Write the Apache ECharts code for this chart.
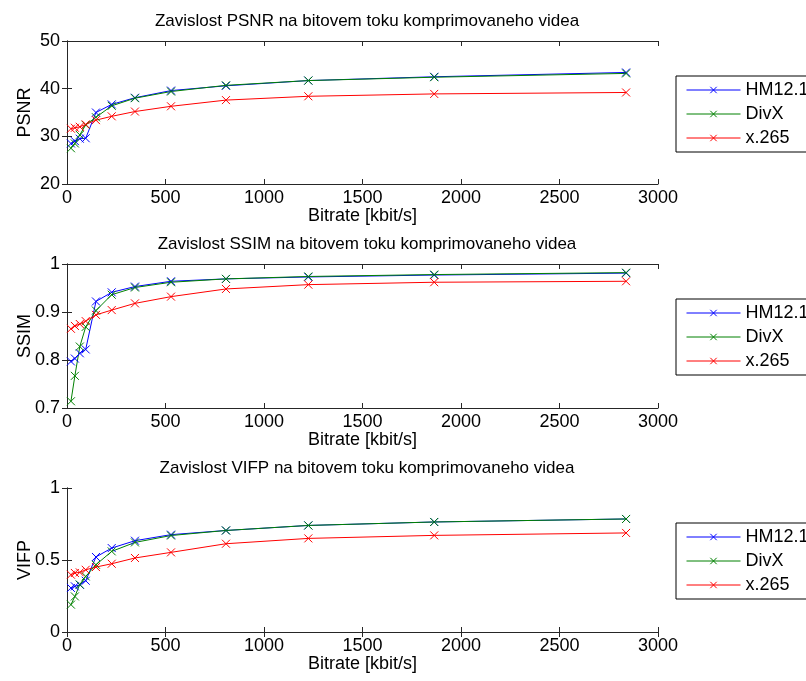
<!DOCTYPE html>
<html><head><meta charset="utf-8">
<script src="https://cdn.jsdelivr.net/npm/echarts@6/dist/echarts.min.js"></script>
<style>html,body{margin:0;padding:0;background:#fff}#c{width:806px;height:681px}</style>
</head><body><div id="c"></div>
<script>
const bitrate = [20, 40, 65, 95, 147, 227, 345, 528, 807, 1225, 1864, 2838];
const codecs = ['HM12.1', 'DivX', 'x.265'];
const colors = ['#0000ff', '#008000', '#ff0000'];
const titles = ['Zavislost PSNR na bitovem toku komprimovaneho videa',
  'Zavislost SSIM na bitovem toku komprimovaneho videa',
  'Zavislost VIFP na bitovem toku komprimovaneho videa'];
const metricNames = ['PSNR', 'SSIM', 'VIFP'];
const xTicks = {min: 0, max: 3000, interval: 500};
const yTicks = [{min: 20, max: 50, interval: 10}, {min: 0.7, max: 1, interval: 0.1}, {min: 0, max: 1, interval: 0.5}];
const psnrHM = [28.5, 29.0, 29.5, 29.6, 35.0, 36.7, 38.1, 39.6, 40.6, 41.7, 42.5, 43.4];
const psnrDivX = [27.5, 28.5, 30.3, 32.4, 34.0, 36.4, 38.0, 39.4, 40.7, 41.7, 42.4, 43.2];
const psnrX265 = [31.6, 31.8, 32.0, 32.5, 33.4, 34.2, 35.2, 36.3, 37.6, 38.4, 38.9, 39.2];
const ssimHM = [0.797, 0.803, 0.814, 0.822, 0.922, 0.941, 0.953, 0.964, 0.969, 0.973, 0.977, 0.981];
const ssimDivX = [0.714, 0.767, 0.828, 0.869, 0.903, 0.936, 0.951, 0.962, 0.969, 0.974, 0.978, 0.982];
const ssimX265 = [0.865, 0.871, 0.875, 0.881, 0.894, 0.904, 0.918, 0.932, 0.948, 0.957, 0.962, 0.964];
const vifpHM = [0.306, 0.317, 0.328, 0.356, 0.521, 0.583, 0.634, 0.676, 0.705, 0.740, 0.764, 0.785];
const vifpDivX = [0.190, 0.247, 0.330, 0.386, 0.467, 0.560, 0.622, 0.670, 0.705, 0.740, 0.764, 0.785];
const vifpX265 = [0.398, 0.410, 0.414, 0.432, 0.451, 0.474, 0.514, 0.553, 0.613, 0.650, 0.671, 0.688];
const metrics = [[psnrHM, psnrDivX, psnrX265], [ssimHM, ssimDivX, ssimX265], [vifpHM, vifpDivX, vifpX265]];

const FONT = "'Liberation Sans', Arial, sans-serif";
const AX = '#262626';
const gridTops = [41, 264, 488];
const gridH = [143, 144, 144];
const xMark = 'path://M0,0L10,10M10,0L0,10';

const grid = [], xAxis = [], yAxis = [], series = [], title = [], legend = [];
for (let g = 0; g < 3; g++) {
  grid.push({left: 67, width: 591, top: gridTops[g], height: gridH[g], containLabel: false});
  title.push({text: titles[g], left: 362, top: gridTops[g] - 33, textAlign: 'center',
    textStyle: {fontFamily: FONT, fontSize: 17, fontWeight: 'normal', color: '#000'}});
  const baseX = {type: 'value', gridIndex: g, min: xTicks.min, max: xTicks.max, interval: xTicks.interval,
    splitLine: {show: false}, axisLine: {show: true, lineStyle: {color: AX, width: 1}},
    axisTick: {show: true, inside: true, length: 5, lineStyle: {color: AX}}};
  xAxis.push(Object.assign({}, baseX, {position: 'bottom', name: 'Bitrate [kbit/s]', nameLocation: 'middle', nameGap: 23,
    nameMoveOverlap: false,
    nameTextStyle: {fontFamily: FONT, fontSize: 18, color: '#000'},
    axisLabel: {fontFamily: FONT, fontSize: 18, color: '#000', margin: 5, formatter: v => String(v)}}));
  xAxis.push(Object.assign({}, baseX, {position: 'top', axisLabel: {show: false}}));
  const yt = yTicks[g];
  const baseY = {type: 'value', gridIndex: g, min: yt.min, max: yt.max, interval: yt.interval,
    splitLine: {show: false}, axisLine: {show: true, lineStyle: {color: AX, width: 1}},
    axisTick: {show: true, inside: true, length: 5, lineStyle: {color: AX}}};
  yAxis.push(Object.assign({}, baseY, {position: 'left', name: metricNames[g], nameLocation: 'middle', nameGap: 33,
    nameMoveOverlap: false,
    nameTextStyle: {fontFamily: FONT, fontSize: 18, color: '#000'},
    axisLabel: {fontFamily: FONT, fontSize: 18, color: '#000', margin: 7,
      formatter: v => String(Math.round(v * 10) / 10)}}));
  yAxis.push(Object.assign({}, baseY, {position: 'right', axisLabel: {show: false}}));
  for (let s = 0; s < 3; s++) {
    series.push({type: 'line', name: codecs[s], xAxisIndex: 2 * g, yAxisIndex: 2 * g,
      data: bitrate.map((b, i) => [b, metrics[g][s][i]]),
      symbol: xMark, symbolSize: 8, showSymbol: true, showAllSymbol: true,
      lineStyle: {color: colors[s], width: 1},
      itemStyle: {color: colors[s], borderColor: colors[s], borderWidth: 1},
      emphasis: {disabled: true}, animation: false});
  }
  legend.push({data: codecs, orient: 'vertical', left: 676, top: gridTops[g] + 35,
    itemWidth: 54, itemHeight: 8, itemGap: 6, padding: [5, 14, 5, 10],
    borderColor: '#000', borderWidth: 1, backgroundColor: '#fff', selectedMode: false,
    itemStyle: {borderWidth: 1}, lineStyle: {width: 1},
    textStyle: {fontFamily: FONT, fontSize: 18, color: '#000'}});
}
const chart = echarts.init(document.getElementById('c'), null, {renderer: 'canvas'});
chart.setOption({animation: false, title, grid, xAxis, yAxis, series, legend});
</script></body></html>
